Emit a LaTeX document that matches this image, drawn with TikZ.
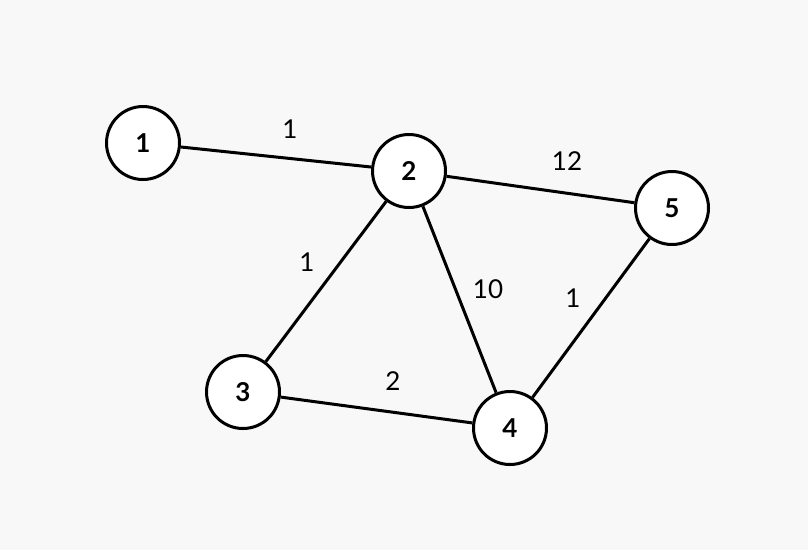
\documentclass[tikz,border=0pt]{standalone}
\usepackage{fontspec}
\setmainfont{Lato}
\definecolor{bggray}{HTML}{F8F8F8}
\begin{document}
\begin{tikzpicture}[x=1pt,y=-1pt,
	vertex/.style={circle, draw=black, fill=white, line width=3pt, minimum size=73pt, inner sep=0pt, font=\fontsize{26}{30}\selectfont\bfseries},
	edge/.style={line width=3pt},
	wt/.style={font=\fontsize{26}{30}\selectfont}]
			
			\fill[bggray] (0,0) rectangle (808,550);
			\useasboundingbox (0,0) rectangle (808,550);
			
			%
			\node[vertex] (n1) at (143,143) {1};
			\node[vertex] (n2) at (409,171) {2};
			\node[vertex] (n3) at (243,392) {3};
			\node[vertex] (n4) at (510,428) {4};
			\node[vertex] (n5) at (672,208) {5};
			%
			\draw[edge] (n1) -- (n2);
			\draw[edge] (n2) -- (n5);
			\draw[edge] (n2) -- (n3);
			\draw[edge] (n2) -- (n4);
			\draw[edge] (n5) -- (n4);
			\draw[edge] (n3) -- (n4);
			%
			\node[wt] (w12) at (290,129) {1};
			\node[wt] (w25) at (567,161) {12};
			\node[wt] (w23) at (307,262) {1};
			\node[wt] (w24) at (488,289) {10};
			\node[wt] (w54) at (573,298) {1};
			\node[wt] (w34) at (393,381) {2};
			
			\end{tikzpicture}
\end{document}
